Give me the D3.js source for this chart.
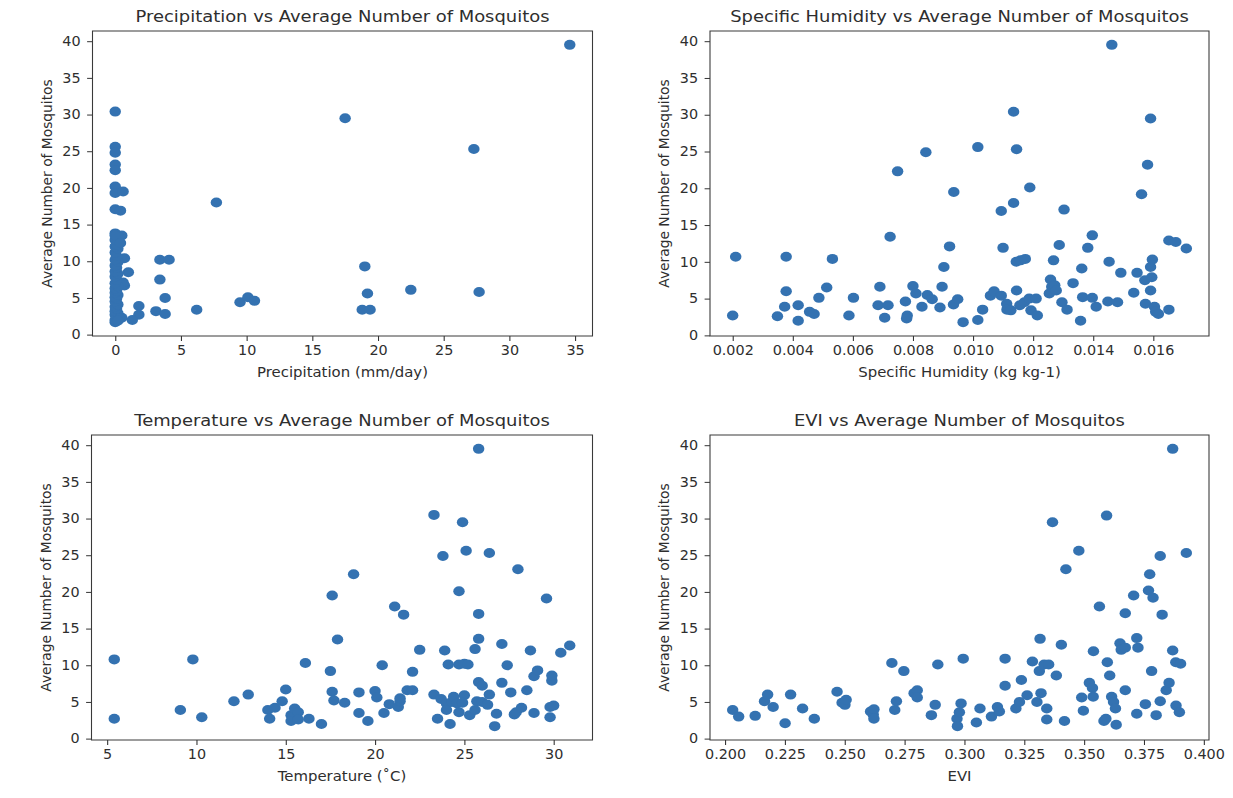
<!DOCTYPE html>
<html>
<head>
<meta charset="utf-8">
<script src="https://cdn.jsdelivr.net/npm/d3@7"></script>
<style>
  body { margin: 0; background: #fff; }
  svg { display: block; }
</style>
</head>
<body>
<script>
// values: [x, average number of mosquitos]
const precipPoints = [
  [34.6,39.5],[0.0,30.4],[17.5,29.5],[27.3,25.3],[0.0,25.6],[0.0,24.8],[0.0,23.2],[0.0,22.4],
  [0.0,20.2],[0.0,19.3],[0.6,19.5],[7.7,18.0],[0.0,17.1],[0.4,16.9],[0.0,13.8],[0.5,13.5],
  [0.2,12.7],[0.7,10.4],[1.0,8.5],[0.7,6.7],[0.6,7.1],[1.8,3.9],[1.8,2.7],[1.3,2.0],[0.5,2.3],
  [0.0,1.7],[3.4,10.2],[4.1,10.2],[3.4,7.5],[3.8,5.0],[3.1,3.2],[3.8,2.8],[6.2,3.4],[9.5,4.4],
  [10.1,5.1],[10.6,4.6],[19.0,9.3],[19.2,5.6],[18.8,3.4],[19.4,3.4],[22.5,6.1],[27.7,5.8],
  [0.0,2.0],[0.1,2.4],[0.0,2.7],[0.2,2.9],[0.0,3.2],[0.1,3.5],[0.0,3.8],[0.2,4.1],[0.0,4.5],
  [0.1,4.9],[0.0,5.1],[0.2,5.4],[0.0,5.7],[0.1,6.0],[0.0,6.3],[0.2,6.6],[0.0,7.0],[0.1,7.5],
  [0.0,7.9],[0.2,8.3],[0.0,8.6],[0.1,9.1],[0.0,9.4],[0.2,9.9],[0.0,10.2],[0.1,10.7],[0.0,11.2],
  [0.2,11.7],[0.0,12.0],[0.1,12.3],[0.0,12.9],[0.3,13.3],[0.0,13.5],[0.4,12.5],[0.3,2.2],[0.2,1.9]
];

const humidityPoints = [
  [0.0020,2.7],[0.0021,10.7],[0.00349,2.6],[0.00378,10.7],[0.00378,6.0],[0.00373,3.9],[0.00418,4.1],
  [0.00418,2.0],[0.00456,3.2],[0.00471,2.9],[0.00487,5.1],[0.00513,6.5],[0.00532,10.4],[0.00587,2.7],
  [0.00602,5.1],[0.0069,6.6],[0.00684,4.1],[0.00717,4.1],[0.00706,2.4],[0.00724,13.4],[0.00749,22.3],
  [0.00775,4.6],[0.00781,2.7],[0.00779,2.3],[0.0080,6.7],[0.0081,5.7],[0.0083,3.9],[0.00843,24.9],
  [0.00848,5.5],[0.00864,4.9],[0.0089,3.8],[0.00897,6.6],[0.00903,9.3],[0.00922,12.1],[0.00936,19.5],
  [0.00935,4.2],[0.00949,4.9],[0.00967,1.8],[0.01016,25.6],[0.01016,2.1],[0.01032,3.5],[0.01058,5.4],
  [0.0107,6.0],[0.01094,16.9],[0.0110,11.9],[0.01094,5.4],[0.01112,4.3],[0.01113,3.5],[0.01126,3.4],
  [0.01135,18.0],[0.01135,30.4],[0.01145,25.3],[0.01144,10.0],[0.01145,6.1],[0.01158,10.2],[0.01174,10.4],
  [0.01156,4.1],[0.01171,4.5],[0.01187,5.0],[0.01189,20.1],[0.01193,3.4],[0.0121,5.0],[0.01214,2.7],
  [0.01254,5.7],[0.01258,7.6],[0.01262,6.6],[0.01272,6.8],[0.01277,6.1],[0.01268,10.2],[0.01287,12.3],
  [0.01303,17.1],[0.01296,4.5],[0.01313,3.5],[0.01333,7.1],[0.01358,2.0],[0.01362,9.1],[0.01365,5.2],
  [0.01382,11.9],[0.01397,13.6],[0.01397,5.1],[0.0141,3.9],[0.01449,4.6],[0.01453,10.0],[0.01462,39.5],
  [0.01481,4.5],[0.01492,8.5],[0.01535,5.8],[0.01546,8.5],[0.01561,19.2],[0.01572,7.5],[0.01574,4.3],
  [0.01581,23.2],[0.01591,29.5],[0.01591,9.3],[0.01597,10.3],[0.01595,7.9],[0.01591,6.1],[0.01604,3.9],
  [0.01608,3.2],[0.01617,2.9],[0.01652,3.5],[0.01652,12.9],[0.01675,12.7],[0.0171,11.8]
];

const tempPoints = [
  [5.4,10.8],[5.4,2.7],[9.1,3.9],[9.8,10.8],[10.3,2.9],[12.1,5.1],[12.9,6.0],[14.0,3.9],[14.1,2.7],
  [14.4,4.2],[14.8,5.1],[15.0,6.7],[15.3,3.2],[15.3,2.4],[15.5,4.1],[15.7,3.6],[15.7,2.6],[16.3,2.7],
  [16.1,10.3],[17.0,2.0],[17.5,9.2],[17.6,19.5],[17.6,6.4],[17.7,5.2],[17.9,13.5],[18.3,4.9],[18.8,22.4],
  [19.1,6.3],[19.1,3.5],[19.6,2.4],[20.0,6.5],[20.1,5.6],[20.4,10.0],[20.5,3.5],[20.8,4.7],[21.1,18.0],
  [21.3,4.3],[21.4,5.1],[21.4,5.5],[21.6,16.9],[21.8,6.6],[22.1,6.6],[22.1,9.1],[22.5,12.1],[23.3,30.5],
  [23.3,6.0],[23.5,2.7],[23.8,24.9],[23.9,12.0],[24.1,10.1],[23.7,5.4],[24.0,4.8],[24.0,3.9],[24.3,5.0],
  [24.4,5.7],[24.2,2.0],[24.6,4.8],[24.7,3.6],[24.7,20.1],[24.7,10.1],[25.0,10.2],[25.2,10.1],[24.9,29.5],
  [25.1,25.6],[25.0,5.9],[24.9,4.9],[25.3,3.2],[25.6,12.2],[25.8,13.6],[25.8,39.5],[25.8,17.0],[25.8,7.7],
  [26.0,7.2],[25.7,5.1],[26.0,5.0],[25.6,3.9],[26.3,4.6],[26.4,6.0],[26.4,25.3],[26.8,3.4],[26.7,1.7],
  [27.1,12.9],[27.1,7.6],[27.4,10.0],[27.6,6.3],[27.8,3.3],[27.9,3.6],[28.0,23.1],[28.2,4.2],[28.5,6.6],
  [28.7,12.0],[28.9,8.5],[29.1,9.3],[28.9,3.5],[29.6,19.1],[29.8,2.9],[29.8,4.3],[29.9,7.9],[29.9,8.6],
  [30.0,4.5],[30.4,11.7],[30.9,12.7]
];

const eviPoints = [
  [0.2032,3.9],[0.2057,3.0],[0.2126,3.1],[0.2165,5.1],[0.2178,6.0],[0.2201,4.3],[0.2251,2.1],[0.2274,6.0],
  [0.2324,4.1],[0.2373,2.7],[0.2468,6.4],[0.2489,4.9],[0.2501,4.6],[0.2506,5.3],[0.2608,3.7],[0.2619,3.3],
  [0.2622,4.0],[0.2622,2.7],[0.2697,10.3],[0.2709,3.9],[0.2716,5.1],[0.2747,9.2],[0.2790,6.2],[0.2803,6.6],
  [0.2803,5.6],[0.2862,3.2],[0.2878,4.6],[0.2889,10.1],[0.2969,2.7],[0.2971,1.7],[0.2979,3.6],[0.2986,4.8],
  [0.2995,10.9],[0.3050,2.2],[0.3065,4.1],[0.3113,3.0],[0.3138,4.3],[0.3146,3.7],[0.3170,7.2],[0.3170,10.9],
  [0.3215,4.1],[0.3230,5.0],[0.3238,8.0],[0.3262,5.9],[0.3284,10.5],[0.3303,5.0],[0.3313,9.2],[0.3333,10.1],
  [0.3352,10.1],[0.3316,13.6],[0.3320,6.2],[0.3344,4.1],[0.3344,2.6],[0.3368,29.5],[0.3384,8.6],[0.3405,12.8],
  [0.3418,2.4],[0.3424,23.1],[0.3478,25.6],[0.3490,5.6],[0.3497,3.8],[0.3522,7.6],[0.3535,6.9],[0.3538,5.7],
  [0.3539,11.9],[0.3564,18.0],[0.3583,2.4],[0.3591,2.7],[0.3594,30.4],[0.3597,10.4],[0.3607,8.6],[0.3615,5.7],
  [0.3623,5.0],[0.3631,4.1],[0.3634,1.9],[0.3650,13.0],[0.3655,12.1],[0.3672,12.4],[0.3672,17.1],[0.3672,6.6],
  [0.3707,19.5],[0.3720,13.7],[0.3725,12.4],[0.3720,3.4],[0.3756,4.7],[0.3769,20.2],[0.3774,22.4],[0.3788,19.2],
  [0.3782,9.2],[0.3801,3.2],[0.3818,5.1],[0.3818,24.9],[0.3826,16.9],[0.3843,6.6],[0.3855,7.6],[0.3870,39.5],
  [0.3870,12.0],[0.3883,10.4],[0.3903,10.2],[0.3884,4.5],[0.3898,3.6],[0.3927,25.3]
];

const yTicks = [0, 5, 10, 15, 20, 25, 30, 35, 40];
const precipTicks = [0, 5, 10, 15, 20, 25, 30, 35];
const humidityTicks = [0.002, 0.004, 0.006, 0.008, 0.010, 0.012, 0.014, 0.016];
const tempTicks = [5, 10, 15, 20, 25, 30];
const eviTicks = [0.200, 0.225, 0.250, 0.275, 0.300, 0.325, 0.350, 0.375, 0.400];

const titles = [
  "Precipitation vs Average Number of Mosquitos",
  "Specific Humidity vs Average Number of Mosquitos",
  "Temperature vs Average Number of Mosquitos",
  "EVI vs Average Number of Mosquitos"
];
const xLabels = ["Precipitation (mm/day)", "Specific Humidity (kg kg-1)", "Temperature (\u02DAC)", "EVI"];
const yLabel = "Average Number of Mosquitos";

// the reference figure is a bit stretched sideways
const SX = 1.08;
const dotColor = "#3472b1";
const font = "'DejaVu Sans', sans-serif";

const svg = d3.select("body").append("svg")
    .attr("width", 1233)
    .attr("height", 798);
const root = svg.append("g").attr("transform", `scale(${SX},1)`);

// matplotlib style auto limits: data extent plus 5% each side
function padded(ext) {
  const m = (ext[1] - ext[0]) * 0.05;
  return [ext[0] - m, ext[1] + m];
}

const panels = [
  {points: precipPoints,   ticks: precipTicks,   fmt: d3.format("d"),   box: {left: 92.5, right: 592.5, top: 31,  bottom: 336}},
  {points: humidityPoints, ticks: humidityTicks, fmt: d3.format(".3f"), box: {left: 710,  right: 1209,  top: 31,  bottom: 336}},
  {points: tempPoints,     ticks: tempTicks,     fmt: d3.format("d"),   box: {left: 91.5, right: 592.5, top: 435, bottom: 740}},
  {points: eviPoints,      ticks: eviTicks,      fmt: d3.format(".3f"), box: {left: 710,  right: 1209,  top: 435, bottom: 740}}
];

panels.forEach(function(p, i) {
  const b = p.box;
  const x0 = b.left / SX, x1 = b.right / SX;

  const xScale = d3.scaleLinear()
      .domain(padded(d3.extent(p.points, d => d[0])))
      .range([x0, x1]);
  const yScale = d3.scaleLinear()
      .domain(padded(d3.extent(p.points, d => d[1])))
      .range([b.bottom, b.top]);

  const g = root.append("g");

  // axes
  const xAxis = g.append("g")
      .attr("transform", `translate(0,${b.bottom})`)
      .call(d3.axisBottom(xScale).tickValues(p.ticks).tickFormat(p.fmt).tickSize(5).tickPadding(5));
  const yAxis = g.append("g")
      .attr("transform", `translate(${x0},0)`)
      .call(d3.axisLeft(yScale).tickValues(yTicks).tickFormat(d3.format("d")).tickSize(5).tickPadding(6));
  [xAxis, yAxis].forEach(function(a) {
    a.select(".domain").remove();
    a.attr("font-family", font).attr("font-size", 13.3);
    a.selectAll("line").attr("stroke", "#333");
    a.selectAll("text").attr("fill", "#2e2e2e");
  });

  // points
  g.selectAll(".dot")
      .data(p.points)
    .enter().append("ellipse")
      .attr("class", "dot")
      .attr("cx", d => xScale(d[0]))
      .attr("cy", d => yScale(d[1]))
      .attr("rx", 5.3)
      .attr("ry", 5)
      .attr("fill", dotColor);

  // frame
  g.append("rect")
      .attr("x", x0)
      .attr("y", b.top)
      .attr("width", x1 - x0)
      .attr("height", b.bottom - b.top)
      .attr("fill", "none")
      .attr("stroke", "#3a3a3a")
      .attr("stroke-width", 1);

  // texts
  g.append("text")
      .attr("x", (x0 + x1) / 2)
      .attr("y", b.top - 9)
      .attr("text-anchor", "middle")
      .attr("font-family", font)
      .attr("font-size", 16.6)
      .attr("fill", "#2e2e2e")
      .text(titles[i]);
  g.append("text")
      .attr("x", (x0 + x1) / 2)
      .attr("y", b.bottom + 41)
      .attr("text-anchor", "middle")
      .attr("font-family", font)
      .attr("font-size", 13.8)
      .attr("fill", "#2e2e2e")
      .text(xLabels[i]);
  g.append("text")
      .attr("transform", `translate(${(b.left - 41) / SX},${(b.top + b.bottom) / 2}) rotate(-90)`)
      .attr("text-anchor", "middle")
      .attr("font-family", font)
      .attr("font-size", 13.8)
      .attr("fill", "#2e2e2e")
      .text(yLabel);
});
</script>
</body>
</html>
